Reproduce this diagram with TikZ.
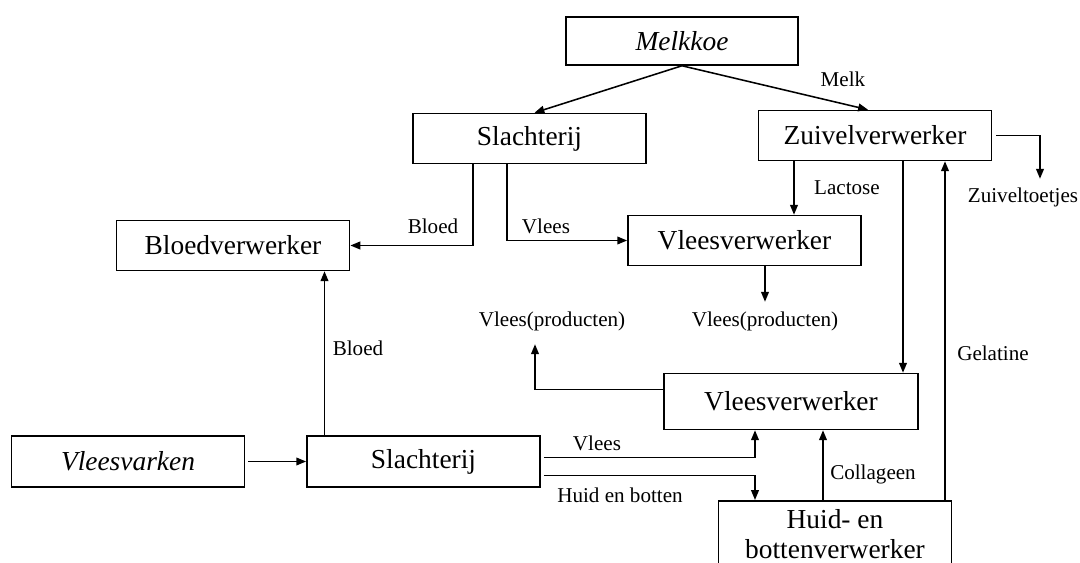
\documentclass[tikz,border=0pt]{standalone}
\usepackage{fontspec}
\setmainfont{Liberation Serif}
\usetikzlibrary{arrows.meta,calc,positioning}

\begin{document}
\begin{tikzpicture}[
x=0.025cm, y=-0.025cm,
box/.style={draw, line width=1.1pt, minimum width=5.83cm, minimum height=1.25cm, inner sep=0pt, font=\fontsize{19.5}{23}\selectfont},
lbl/.style={inner sep=1pt, font=\fontsize{15}{18}\selectfont},
flow/.style={-{Triangle[length=7pt,width=5.5pt]}, line width=1.1pt}
]
\clip (0,0) rectangle (1080,563);

\node[box, minimum width=5.8cm, minimum height=1.2cm] (koe) at (682,41) {\itshape Melkkoe};
\node[box] (slachtA) at (529.5,138.5) {Slachterij};
\node[box] (zuivel) at (875,135.5) {Zuivelverwerker};
\node[box] (bloedv) at (233,245.5) {Bloedverwerker};
\node[box] (vleesA) at (744.5,240.5) {Vleesverwerker};
\node[box, minimum width=6.35cm, minimum height=1.4cm] (vleesB) at (791,401.5) {Vleesverwerker};
\node[box, minimum height=1.28cm] (varken) at (128,461.5) {\itshape Vleesvarken};
\node[box, minimum height=1.28cm] (slachtB) at (423.5,461.5) {Slachterij};
\node[box, anchor=north, minimum height=1.66cm, align=center, font=\fontsize{19.5}{21}\selectfont] (huid) at (835,500) {Huid- en\\bottenverwerker};

\node[lbl] (melk) at (843,79) {Melk};
\node[lbl] (bloedA) at (433,226) {Bloed};
\node[lbl] (vleesAlbl) at (546,226) {Vlees};
\node[lbl] (lactose) at (847,188) {Lactose};
\node[lbl] (toetjes) at (1023,197) {Zuiveltoetjes};
\node[lbl] (prodA) at (552,321) {Vlees(producten)};
\node[lbl] (prodB) at (765,321) {Vlees(producten)};
\node[lbl] (gelatine) at (993,353) {Gelatine};
\node[lbl] (bloedB) at (358,348) {Bloed};
\node[lbl] (vleesBlbl) at (597,443) {Vlees};
\node[lbl] (huidbot) at (620,495) {Huid en botten};
\node[lbl] (collageen) at (873,474) {Collageen};

\coordinate (lac) at ($(zuivel.south)+(-81,0)$);
\coordinate (zv) at ($(zuivel.south)+(28,0)$);
\coordinate (gel) at ($(huid.north)+(110,0)$);
\coordinate (col) at ($(huid.north)+(-12,0)$);
\coordinate (bl) at ($(slachtB.north)+(-99,0)$);

\draw[flow] (koe.south) -- ($(slachtA.north)+(5,0)$);
\draw[flow] (koe.south) -- ($(zuivel.north)+(-7,0)$);
\draw[flow] ($(slachtA.south)+(-56.5,0)$) |- (bloedv.east);
\draw[flow] ($(slachtA.south)+(-22.5,0)$) |- (vleesA.west);
\draw[flow] (lac) -- (lac |- vleesA.north);
\draw[flow] (zv) -- (zv |- vleesB.north);
\draw[flow] (gel) -- (gel |- zuivel.south);
\draw[flow] ($(zuivel.east)+(4,0)$) -| ($(toetjes.north)+(17,-7)$);
\draw[flow] (vleesA.south -| prodB.north) -- ($(prodB.north)+(0,-8)$);
\draw[flow] ($(vleesB.west)+(0,-12)$) -| ($(prodA.south)+(-17,12)$);
\draw[flow] (bl) -- (bl |- bloedv.south);
\draw[flow] ($(varken.east)+(3,0)$) -- (slachtB.west);
\draw[flow] ($(slachtB.east)+(3,-4)$) -| ($(vleesB.south)+(-36,0)$);
\draw[flow] ($(slachtB.east)+(3,14)$) -| ($(huid.north)+(-80,0)$);
\draw[flow] (col) -- (col |- vleesB.south);
\end{tikzpicture}
\end{document}
